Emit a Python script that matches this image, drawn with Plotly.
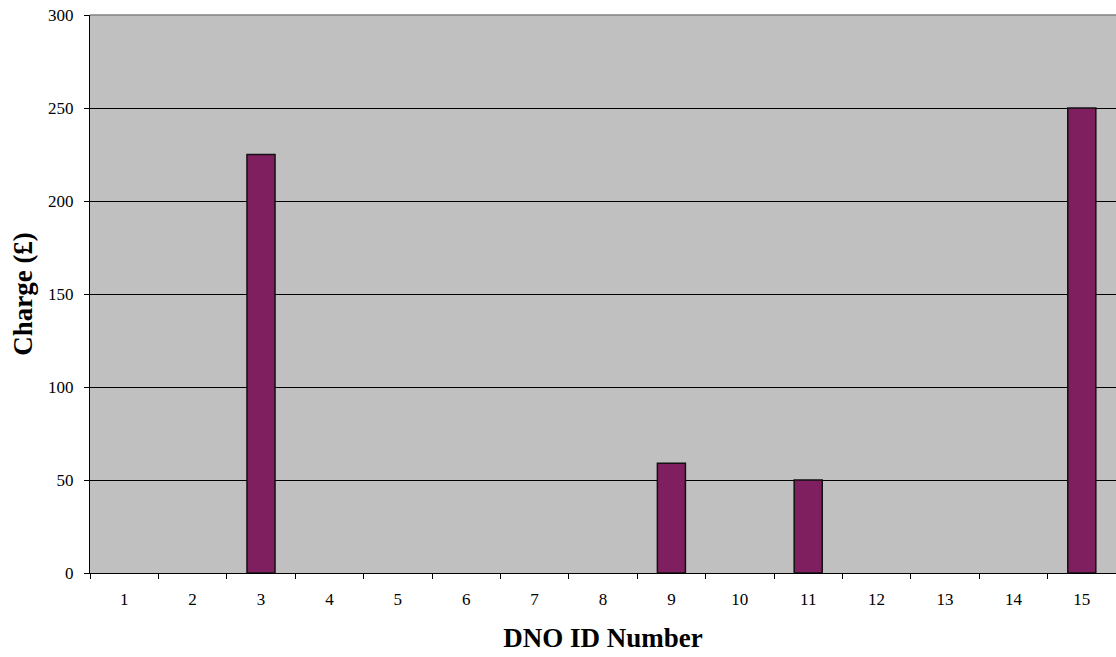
import plotly.graph_objects as go

categories = [str(i) for i in range(1, 16)]
charges = [0, 0, 225, 0, 0, 0, 0, 0, 59, 0, 50, 0, 0, 0, 250]
y_ticks = [0, 50, 100, 150, 200, 250, 300]

outline_widths = [1.5 if v > 0 else 0 for v in charges]

fig = go.Figure()
fig.add_trace(go.Bar(
    x=categories, y=charges,
    marker=dict(color="#801f60", line=dict(color="#111111", width=outline_widths)),
    width=0.41,
))

fig.update_layout(
    width=1116, height=657,
    margin=dict(l=90, r=0, t=15, b=84, autoexpand=False),
    paper_bgcolor="white", plot_bgcolor="#c0c0c0",
    font=dict(family="Liberation Serif, Times New Roman, serif", size=17, color="black"),
    showlegend=False,
)
fig.update_xaxes(
    type="category",
    showgrid=False, showline=True, linecolor="black", linewidth=1,
    ticks="outside", tickson="boundaries", ticklen=5, tickcolor="black",
    ticklabelstandoff=11,
    title=dict(text="<b>DNO ID Number</b>", font=dict(size=27), standoff=19),
)
fig.update_yaxes(
    range=[0, 300], tickvals=y_ticks,
    showgrid=True, gridcolor="black", gridwidth=1,
    showline=True, linecolor="black", linewidth=1,
    ticks="outside", ticklen=5, tickcolor="black",
    ticklabelstandoff=7,
    zeroline=False,
    title=dict(text="<b>Charge (£)</b>", font=dict(size=27), standoff=7),
)
fig.add_shape(type="line", xref="paper", yref="paper", x0=0, x1=1, y0=1, y1=1,
              line=dict(color="#808080", width=1.5))

fig.write_html(
    "out.html",
    config={"displayModeBar": False},
    post_script="document.body.style.margin='0';document.body.style.overflow='hidden';",
)
